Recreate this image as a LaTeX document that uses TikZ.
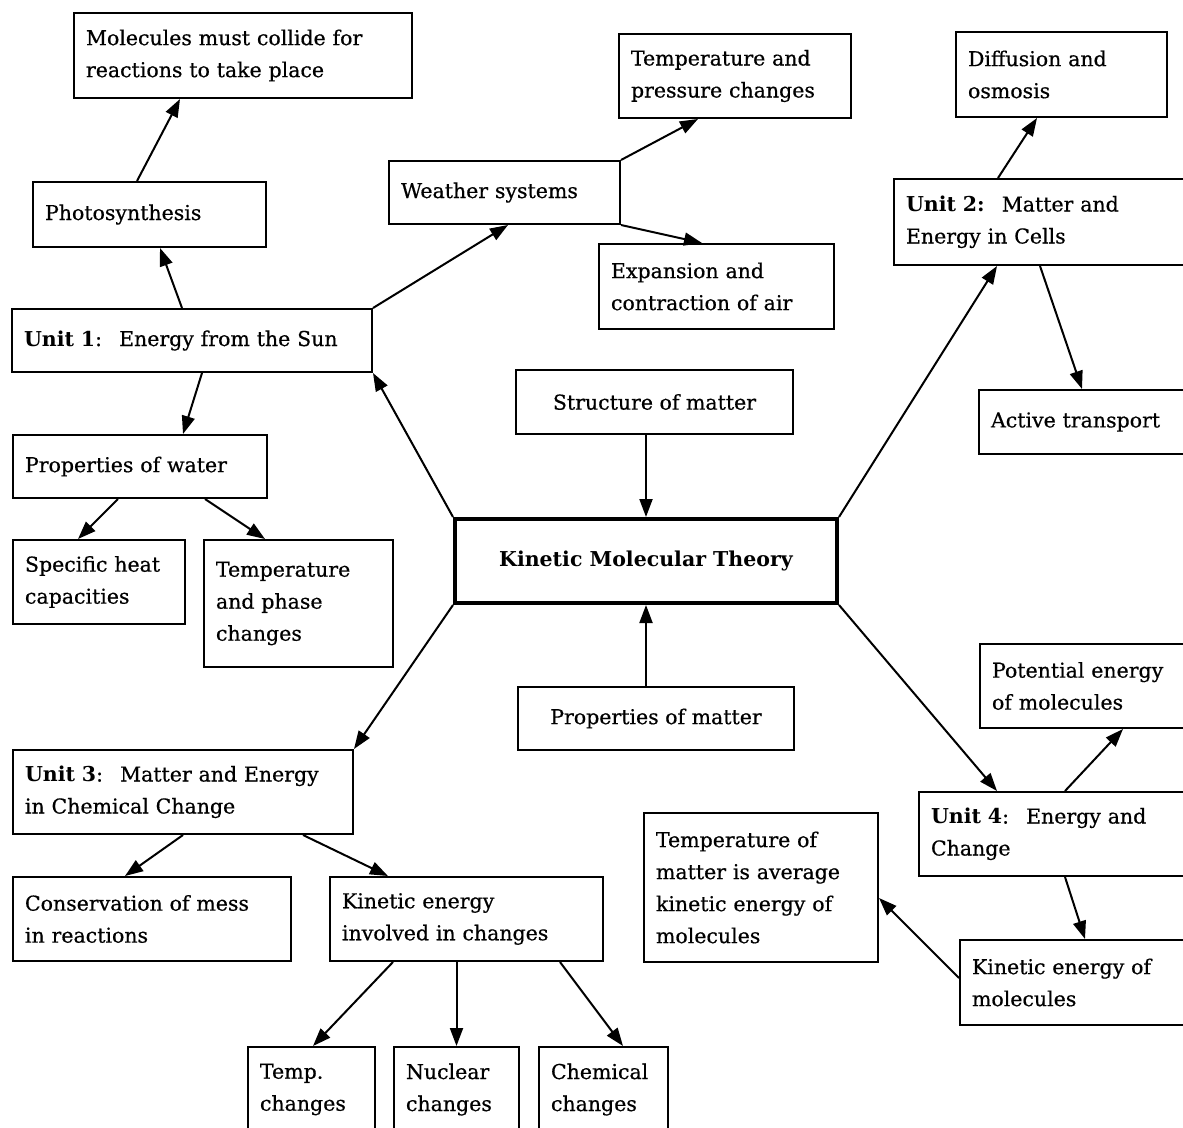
\documentclass[tikz,border=0pt]{standalone}
\usepackage{fontspec}
\setmainfont{DejaVu Serif}[UprightFeatures={FakeBold=0.6}]
\usepackage{tikz}
\usetikzlibrary{arrows.meta,positioning,calc}

\begin{document}
\begin{tikzpicture}[
  x=1pt, y=-1pt,
  cbox/.style={draw, line width=2pt, align=left, inner xsep=12pt, inner ysep=0pt,
               anchor=north west, font=\fontsize{20.5pt}{32pt}\selectfont},
  ctrbox/.style={cbox, align=center},
  kmtbox/.style={ctrbox, line width=4pt, font=\fontsize{20.5pt}{32pt}\selectfont\bfseries},
  arr/.style={-{Triangle[length=18pt,width=13pt]}, line width=2pt}
]
\useasboundingbox (0,0) rectangle (1183,1127);

% centre
\node[kmtbox, minimum width=382pt, minimum height=84pt] (kmt) at (453,517) {Kinetic Molecular Theory};
\node[ctrbox, minimum width=277pt, minimum height=64pt] (struct) at (515,369) {Structure of matter};
\node[ctrbox, minimum width=276pt, minimum height=63pt] (propm) at (517,686) {Properties of matter};

% unit 1
\node[cbox, text width=336pt, minimum height=63pt] (unitone) at (11,308) {\textbf{Unit 1}:~ Energy from the Sun};
\node[cbox, text width=209pt, minimum height=65pt] (photo) at (32,181) {Photosynthesis};
\node[cbox, text width=314pt, minimum height=85pt] (collide) at (73,12) {Molecules must collide for\\reactions to take place};
\node[cbox, text width=207pt, minimum height=63pt] (weather) at (388,160) {Weather systems};
\node[cbox, text width=208pt, minimum height=84pt] (tpress) at (618,33) {Temperature and\\pressure changes};
\node[cbox, text width=211pt, minimum height=85pt] (expand) at (598,243) {Expansion and\\contraction of air};
\node[cbox, text width=230pt, minimum height=63pt] (water) at (12,434) {Properties of water};
\node[cbox, text width=148pt, minimum height=84pt] (heat) at (12,539) {Specific heat\\capacities};
\node[cbox, text width=165pt, minimum height=127pt] (phase) at (203,539) {Temperature\\and phase\\changes};

% unit 2
\node[cbox, text width=278pt, minimum height=86pt] (unittwo) at (893,178) {\textbf{Unit 2:}~ Matter and\\Energy in Cells};
\node[cbox, text width=187pt, minimum height=85pt] (diffuse) at (955,31) {Diffusion and\\osmosis};
\node[cbox, text width=193pt, minimum height=64pt] (active) at (978,389) {Active transport};

% unit 3
\node[cbox, text width=316pt, minimum height=84pt] (unitthree) at (12,749) {\textbf{Unit 3}:~ Matter and Energy\\in Chemical Change};
\node[cbox, text width=254pt, minimum height=84pt] (mass) at (12,876) {Conservation of mess\\in reactions};
\node[cbox, text width=249pt, minimum height=84pt] (kinvol) at (329,876) {Kinetic energy\\involved in changes};
\node[cbox, text width=103pt, minimum height=85pt] (tempch) at (247,1046) {Temp.\\changes};
\node[cbox, text width=101pt, minimum height=85pt] (nuclch) at (393,1046) {Nuclear\\changes};
\node[cbox, text width=105pt, minimum height=85pt] (chemch) at (538,1046) {Chemical\\changes};

% unit 4
\node[cbox, text width=253pt, minimum height=84pt] (unitfour) at (918,791) {\textbf{Unit 4}:~ Energy and\\Change};
\node[cbox, text width=192pt, minimum height=84pt] (potent) at (979,643) {Potential energy\\of molecules};
\node[cbox, text width=212pt, minimum height=85pt] (kinmol) at (959,939) {Kinetic energy of\\molecules};
\node[cbox, text width=210pt, minimum height=149pt] (avgtemp) at (643,812) {Temperature of\\matter is average\\kinetic energy of\\molecules};

% connectors
\draw[arr] (kmt.north |- struct.south) -- (kmt.north);
\draw[arr] (kmt.south |- propm.north) -- (kmt.south);
\draw[arr] (kmt.north west) -- (unitone.south east);
\draw[arr] (kmt.north east) -- ([xshift=104pt]unittwo.south west);
\draw[arr] (kmt.south west) -- (unitthree.north east);
\draw[arr] (kmt.south east) -- ([xshift=79pt]unitfour.north west);

\draw[arr] ([xshift=171pt]unitone.north west) -- ([xshift=128pt]photo.south west);
\draw[arr] ([xshift=105pt]photo.north west) -- ([xshift=107pt]collide.south west);
\draw[arr] (unitone.north east) -- ([xshift=120pt]weather.south west);
\draw[arr] (weather.north east) -- ([xshift=80pt]tpress.south west);
\draw[arr] (weather.south east) -- ([xshift=104pt]expand.north west);
\draw[arr] ([xshift=191pt]unitone.south west) -- ([xshift=171pt]water.north west);
\draw[arr] ([xshift=106pt]water.south west) -- ([xshift=66pt]heat.north west);
\draw[arr] ([xshift=193pt]water.south west) -- ([xshift=62pt]phase.north west);

\draw[arr] ([xshift=105pt]unittwo.north west) -- ([xshift=82pt]diffuse.south west);
\draw[arr] ([xshift=147pt]unittwo.south west) -- ([xshift=104pt]active.north west);

\draw[arr] ([xshift=171pt]unitthree.south west) -- ([xshift=113pt]mass.north west);
\draw[arr] ([xshift=291pt]unitthree.south west) -- ([xshift=59pt]kinvol.north west);
\draw[arr] ([xshift=64pt]kinvol.south west) -- ([xshift=66pt]tempch.north west);
\draw[arr] (nuclch.north |- kinvol.south) -- (nuclch.north);
\draw[arr] ([xshift=231pt]kinvol.south west) -- ([xshift=85pt]chemch.north west);

\draw[arr] ([xshift=147pt]unitfour.north west) -- ([xshift=144pt]potent.south west);
\draw[arr] ([xshift=147pt]unitfour.south west) -- ([xshift=126pt]kinmol.north west);
\draw[arr] ([yshift=-39pt]kinmol.north west) -- ([yshift=-86pt]avgtemp.north east);
\end{tikzpicture}
\end{document}
